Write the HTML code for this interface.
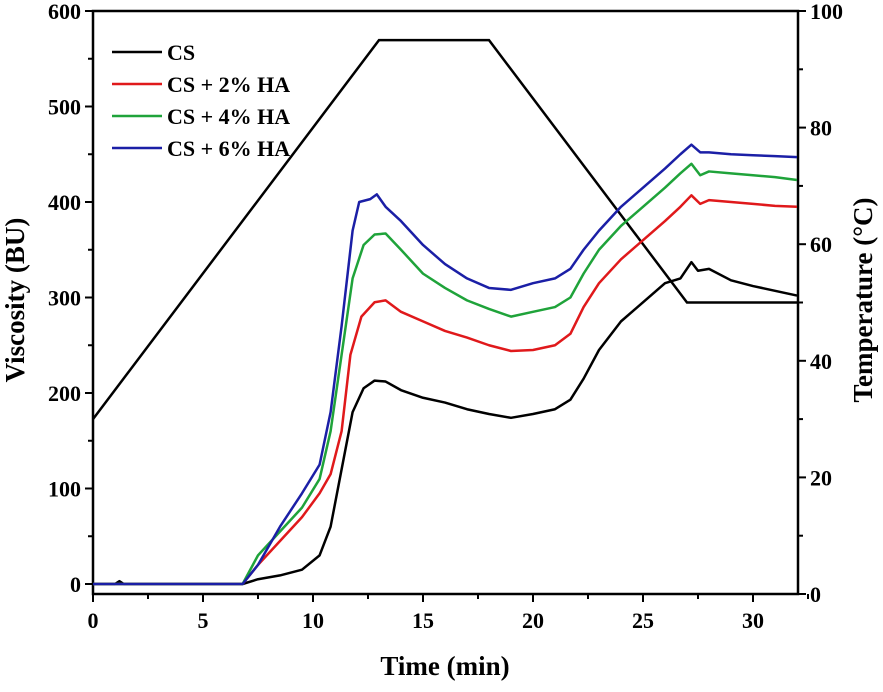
<!DOCTYPE html>
<html><head><meta charset="utf-8"><style>
body{margin:0;background:#fff;width:883px;height:687px;overflow:hidden}
svg text{font-family:"Liberation Serif",serif;font-weight:bold}
</style></head><body>
<svg id="chart" width="883" height="687"></svg>
<script>
const xTicks=[0,5,10,15,20,25,30];
const yTicks=[0,100,200,300,400,500,600];
const tTicks=[0,20,40,60,80,100];
const seriesNames=["CS","CS + 2% HA","CS + 4% HA","CS + 6% HA"];
const colors=["#000000","#e0191b","#1fa33a","#1b1fa6"];
const tempTime=[0,13,18,27,32];
const tempVal=[30,95,95,50,50];
const csT=[0,1,1.2,1.4,6.8,7.5,8.5,9.5,10.3,10.8,11.3,11.8,12.3,12.8,13.3,14,15,16,17,18,19,20,21,21.7,22.3,23,24,25,26,26.7,27.2,27.5,28,29,30,31,32];
const csV=[0,0,3,0,0,5,9,15,30,60,120,180,205,213,212,203,195,190,183,178,174,178,183,193,215,245,275,295,315,320,337,328,330,318,312,307,302];
const ha2T=[0,6.8,7.5,8.5,9.5,10.3,10.8,11.3,11.7,12.2,12.8,13.3,14,15,16,17,18,19,20,21,21.7,22.3,23,24,25,26,26.7,27.2,27.6,28,29,30,31,32];
const ha2V=[0,0,20,45,70,95,115,160,240,280,295,297,285,275,265,258,250,244,245,250,262,290,315,340,360,380,395,407,398,402,400,398,396,395];
const ha4T=[0,6.8,7.5,8.5,9.5,10.3,10.8,11.3,11.8,12.3,12.8,13.3,14,15,16,17,18,19,20,21,21.7,22.3,23,24,25,26,26.7,27.2,27.6,28,29,30,31,32];
const ha4V=[0,0,30,55,80,110,160,240,320,355,366,367,350,325,310,297,288,280,285,290,300,325,350,375,395,415,430,440,428,432,430,428,426,423];
const ha6T=[0,6.8,7.5,8.5,9.5,10.3,10.8,11.3,11.8,12.1,12.6,12.9,13.3,14,15,16,17,18,19,20,21,21.7,22.3,23,24,25,26,26.7,27.2,27.6,28,29,30,31,32];
const ha6V=[0,0,20,60,95,125,180,270,370,400,403,408,395,380,355,335,320,310,308,315,320,330,350,370,395,415,435,450,460,452,452,450,449,448,447];

const X0=93,X1=798,Y0=594,YT=11;
const xs=t=>X0+t*22;
const ys=v=>584-v*0.955;
const ts=v=>Y0-v*5.83;
const svg=document.getElementById('chart');
const NS="http://www.w3.org/2000/svg";
function mk(tag,attrs,parent){const e=document.createElementNS(NS,tag);for(const k in attrs)e.setAttribute(k,attrs[k]);(parent||svg).appendChild(e);return e;}
function txt(s,attrs){const e=mk('text',attrs);e.textContent=s;return e;}

const frame=mk('rect',{x:X0,y:YT,width:X1-X0,height:Y0-YT,fill:'none',stroke:'#000','stroke-width':2.5});



xTicks.forEach(t=>{
 mk('line',{x1:xs(t),x2:xs(t),y1:Y0,y2:Y0+8,stroke:'#000','stroke-width':2});
 mk('line',{x1:xs(t+2.5),x2:xs(t+2.5),y1:Y0,y2:Y0+5,stroke:'#000','stroke-width':2});
 const l=txt(t,{x:xs(t),y:628,'text-anchor':'middle','font-size':22});
 
 
});
yTicks.forEach(v=>{
 mk('line',{x1:X0-8,x2:X0,y1:ys(v),y2:ys(v),stroke:'#000','stroke-width':2});
 if(v<600)mk('line',{x1:X0-5,x2:X0,y1:ys(v+50),y2:ys(v+50),stroke:'#000','stroke-width':2});
 const l=txt(v,{x:X0-12,y:ys(v)+8,'text-anchor':'end','font-size':22});
 
 
});
tTicks.forEach(v=>{
 mk('line',{x1:X1,x2:X1+8,y1:ts(v),y2:ts(v),stroke:'#000','stroke-width':2});
 if(v<100)mk('line',{x1:X1,x2:X1+5,y1:ts(v+10),y2:ts(v+10),stroke:'#000','stroke-width':2});
 const l=txt(v,{x:X1+12,y:ts(v)+8,'text-anchor':'start','font-size':22});
 
 
});
const xt=txt('Time (min)',{x:445,y:675,'text-anchor':'middle','font-size':27});


const yt=txt('Viscosity (BU)',{x:0,y:0,'text-anchor':'middle','font-size':27,transform:'translate(24,300) rotate(-90)'});


const rt=txt('Temperature (°C)',{x:0,y:0,'text-anchor':'middle','font-size':27,transform:'translate(872,300) rotate(-90)'});



const tp=mk('polyline',{points:tempTime.map((t,i)=>xs(t)+','+ts(tempVal[i])).join(' '),fill:'none',stroke:'#000','stroke-width':2.5});



const allT=[csT,ha2T,ha4T,ha6T],allV=[csV,ha2V,ha4V,ha6V];
const keys=['cs','cs-2-ha','cs-4-ha','cs-6-ha'];
allT.forEach((T,s)=>{
 const p=mk('polyline',{points:T.map((t,i)=>xs(t)+','+ys(allV[s][i])).join(' '),fill:'none',stroke:colors[s],'stroke-width':2.5,'stroke-linejoin':'round'});
 
 
});
seriesNames.forEach((n,i)=>{
 const y=52+i*32;
 const g=mk('g',{});
 
 
 mk('line',{x1:112,x2:162,y1:y,y2:y,stroke:colors[i],'stroke-width':2.5},g);
 const t=mk('text',{x:167,y:y+8,'font-size':22},g);t.textContent=n;
});
</script>
</body></html>
